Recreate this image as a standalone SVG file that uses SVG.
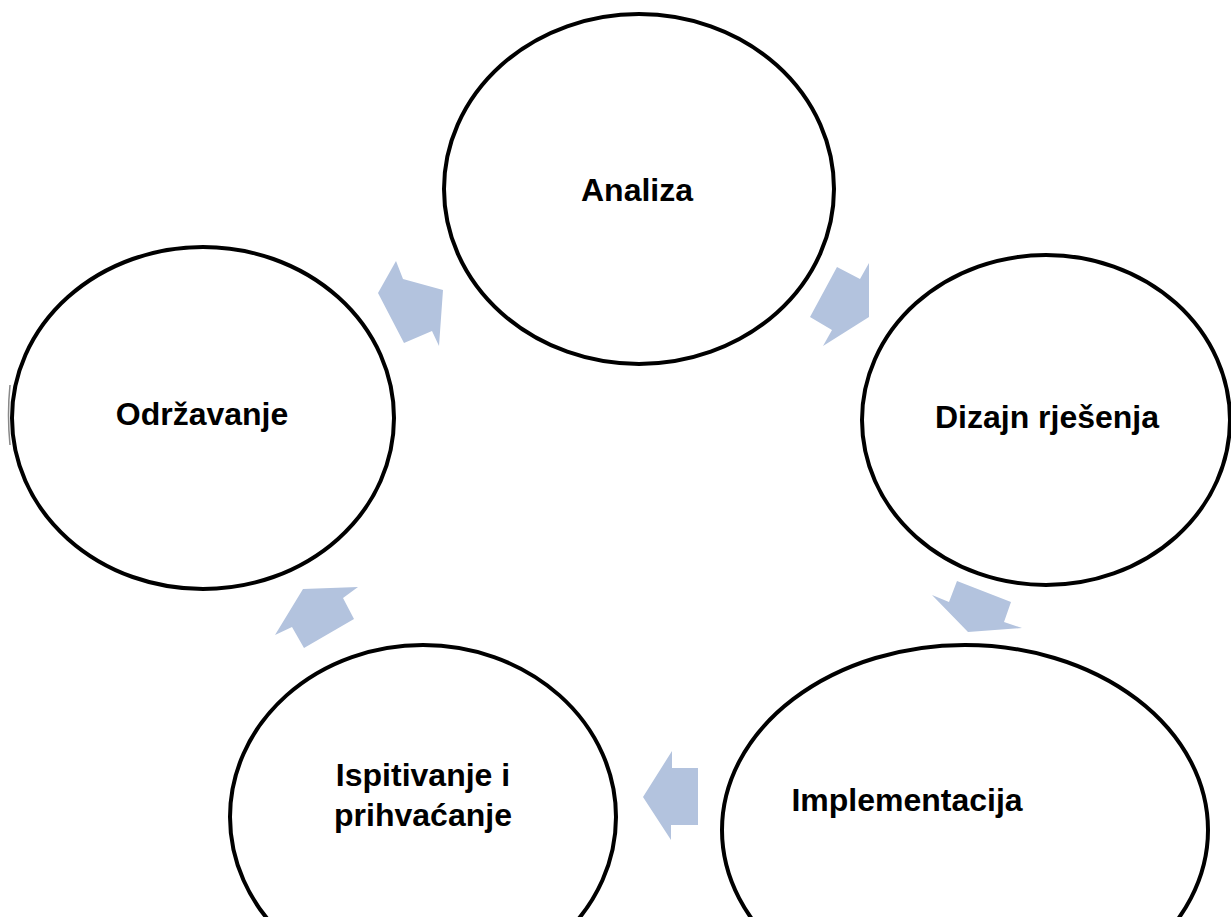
<svg xmlns="http://www.w3.org/2000/svg" width="1231" height="917" viewBox="0 0 1231 917">
<style>
.n{fill:#ffffff;stroke:#000000;stroke-width:4}
.t{font-family:"Liberation Sans",Arial,sans-serif;font-weight:bold;font-size:32px;fill:#000000;text-anchor:middle}
.a{fill:#b3c3de;stroke:none}
</style>
<rect width="1231" height="917" fill="#ffffff"/>
<g id="connectors">
<polygon class="a" points="378,293 404,343 432,331 439,346 443,290 403,279 396,261"/>
<polygon class="a" points="837,267 860,279 869,263 869,317 823,346 832,330 810,317"/>
<polygon class="a" points="932,595 949,602 957,581 1011,602 1004,622 1022,628 968,632"/>
<polygon class="a" points="672,751 672,768 698,768 698,825 671,825 671,840 643,797"/>
<polygon class="a" points="303,589 358,587 343,598 354,619 304,648 292,627 275,635"/>
</g>
<g id="analiza">
<ellipse class="n" cx="639" cy="189" rx="195" ry="175"/>
<text class="t" x="637" y="201">Analiza</text>
</g>
<g id="dizajn">
<ellipse class="n" cx="1046" cy="420" rx="184" ry="165"/>
<text class="t" x="1047" y="428">Dizajn rješenja</text>
</g>
<g id="implementacija">
<ellipse class="n" cx="965" cy="830" rx="243" ry="185"/>
<text class="t" x="907" y="811">Implementacija</text>
</g>
<g id="ispitivanje">
<ellipse class="n" cx="423" cy="817" rx="193" ry="172"/>
<text class="t" x="423" y="786">Ispitivanje i</text>
<text class="t" x="423" y="826">prihvaćanje</text>
</g>
<g id="odrzavanje">
<path d="M10,385 Q7,415 10,445" fill="none" stroke="#888888" stroke-width="1.5"/>
<ellipse class="n" cx="203" cy="418" rx="191" ry="171"/>
<text class="t" x="202" y="425">Održavanje</text>
</g>
</svg>
